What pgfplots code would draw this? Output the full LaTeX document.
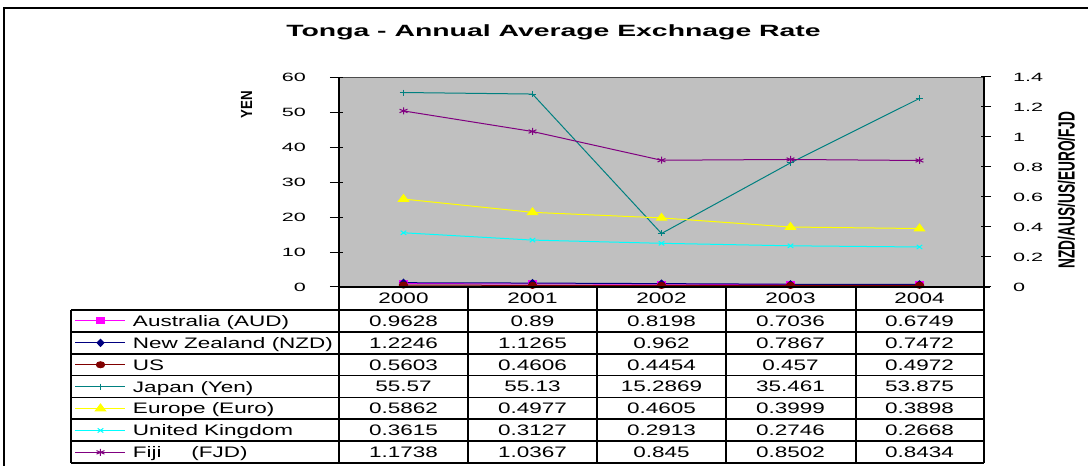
\documentclass[border=0pt]{standalone}
\usepackage{fontspec}
\setmainfont{Liberation Sans}
\usepackage{graphicx}
\usepackage{pgfplots}
\pgfplotsset{compat=1.18}
\definecolor{plotgray}{RGB}{192,192,192}
\definecolor{audc}{RGB}{255,0,255}
\definecolor{nzdc}{RGB}{0,0,128}
\definecolor{usc}{RGB}{128,0,0}
\definecolor{jpyc}{RGB}{0,128,128}
\definecolor{eurc}{RGB}{255,255,0}
\definecolor{gbpc}{RGB}{0,255,255}
\definecolor{fjdc}{RGB}{128,0,128}
\newcommand{\tx}[1]{{\fontsize{15.2}{18}\selectfont\scalebox{1.48}[1]{#1}}}
\newcommand{\tk}[1]{{\fontsize{12}{14}\selectfont\scalebox{1.8}[1]{#1}}}
\begin{document}
\begin{tikzpicture}
\begin{scope}[x=1pt,y=1pt]
\path[use as bounding box, fill=white] (0,0) rectangle (1088,466);
\draw[line width=2pt] (4,0) -- (4,458) -- (1088,458);
\node[anchor=base, inner sep=0pt] at (553.5,429.3) {\fontsize{16.3}{19}\selectfont\bfseries\scalebox{1.74}[1]{Tonga - Annual Average Exchnage Rate}};
\fill[plotgray] (339,179) rectangle (984,389);
\draw[gray!60!black, line width=0.6pt] (339,389) -- (984,389);
\node[rotate=90, inner sep=0pt] at (246.5,361) {\fontsize{14}{16}\selectfont\bfseries\scalebox{0.95}[1.15]{YEN}};
\node[rotate=90, inner sep=0pt] at (1066.5,276) {\fontsize{13.7}{16}\selectfont\bfseries\scalebox{1}[1.7]{NZD/AUS/US/EURO/FJD}};
\end{scope}

\begin{axis}[
  at={(339pt,179pt)}, anchor=south west,
  scale only axis, width=645pt, height=210pt,
  xmin=-0.5, xmax=4.5, ymin=0, ymax=60,
  axis x line=none, axis y line*=left,
  y axis line style={line width=2.4pt, -},
  ytick={0,10,20,30,40,50,60},
  tick align=outside, major tick length=13pt,
  ytick style={line width=1pt, black, xshift=4pt},
  /pgf/number format/assume math mode=true,
  yticklabel={\tk{\pgfmathprintnumber{\tick}}},
  yticklabel style={anchor=east, inner sep=0pt, xshift=-20pt},
  clip=false,
  legend cell align=left,
  legend style={at={(axis description cs:-0.4093,-0.10952)}, anchor=north west,
    draw=none, fill=none, inner sep=0pt, outer sep=0pt, row sep=0pt, column sep=7pt,
    nodes={inner sep=0pt, text height=16.35pt, text depth=5.55pt, anchor=west}},
  legend image code/.code={\draw[mark repeat=2,mark phase=2,#1] plot coordinates {(0pt,0pt) (25pt,0pt) (50pt,0pt)};},
]
\addplot[audc, line width=1pt, mark=square*, mark size=3pt, mark options={solid, xscale=1.3}]
  coordinates {(0,0.9628)(1,0.89)(2,0.8198)(3,0.7036)(4,0.6749)};
\addlegendentry{\tx{Australia (AUD)}}
\addplot[nzdc, line width=1pt, mark=diamond*, mark size=3.5pt, mark options={solid, xscale=1.3}]
  coordinates {(0,1.2246)(1,1.1265)(2,0.962)(3,0.7867)(4,0.7472)};
\addlegendentry{\tx{New Zealand (NZD)}}
\addplot[usc, line width=1pt, mark=*, mark size=3pt, mark options={solid, xscale=1.4}]
  coordinates {(0,0.5603)(1,0.4606)(2,0.4454)(3,0.457)(4,0.4972)};
\addlegendentry{\tx{US}}
\addplot[jpyc, line width=1pt, mark=+, mark size=3pt, mark options={solid, xscale=1.3}]
  coordinates {(0,55.57)(1,55.13)(2,15.2869)(3,35.461)(4,53.875)};
\addlegendentry{\tx{Japan (Yen)}}
\addlegendimage{eurc, line width=1pt, mark=triangle*, mark size=4.5pt, mark options={solid, xscale=1.3}}
\addlegendentry{\tx{Europe (Euro)}}
\addlegendimage{gbpc, line width=1pt, mark=x, mark size=3pt, mark options={solid, xscale=1.3}}
\addlegendentry{\tx{United Kingdom}}
\addlegendimage{fjdc, line width=1pt, mark=asterisk, mark size=3.5pt, mark options={solid, xscale=1.3}}
\addlegendentry{\tx{Fiji\hspace{20pt}(FJD)}}
\end{axis}

\begin{axis}[
  at={(339pt,179pt)}, anchor=south west,
  scale only axis, width=645pt, height=210pt,
  xmin=-0.5, xmax=4.5, ymin=0, ymax=1.4,
  axis x line=none, axis y line*=right,
  y axis line style={line width=2.4pt, -},
  ytick={0,0.2,0.4,0.6,0.8,1,1.2,1.4},
  tick align=outside, major tick length=10pt,
  ytick style={line width=1pt, black, xshift=-3pt},
  /pgf/number format/assume math mode=true,
  yticklabel={\tk{\pgfmathprintnumber{\tick}}},
  yticklabel style={anchor=west, inner sep=0pt, xshift=19pt},
  clip=false,
]
\addplot[eurc, line width=1pt, mark=triangle*, mark size=4.5pt, mark options={solid, xscale=1.3}]
  coordinates {(0,0.5862)(1,0.4977)(2,0.4605)(3,0.3999)(4,0.3898)};
\addplot[gbpc, line width=1pt, mark=x, mark size=3pt, mark options={solid, xscale=1.3}]
  coordinates {(0,0.3615)(1,0.3127)(2,0.2913)(3,0.2746)(4,0.2668)};
\addplot[fjdc, line width=1pt, mark=asterisk, mark size=3.5pt, mark options={solid, xscale=1.3}]
  coordinates {(0,1.1738)(1,1.0367)(2,0.845)(3,0.8502)(4,0.8434)};
\end{axis}

\begin{scope}[x=1pt,y=1pt]
\draw[line width=1.6pt] (339,179) -- (990,179);
\foreach \k in {0,...,7} \draw[line width=1.6pt] (71,{156-21.857*\k}) -- (984,{156-21.857*\k});
\draw[line width=1.6pt] (71,156) -- (71,3);
\foreach \xx in {339,468,597,726,856,984} \draw[line width=1.6pt] (\xx,179) -- (\xx,3);
\foreach \yr [count=\i from 0] in {2000,2001,2002,2003,2004}
  \node[anchor=base, inner sep=0pt] at ({403.5+129*\i},162.7) {\tx{\yr}};
\foreach \r/\a/\b/\c/\d/\e in {0/0.9628/0.89/0.8198/0.7036/0.6749,
    1/1.2246/1.1265/0.962/0.7867/0.7472,
    2/0.5603/0.4606/0.4454/0.457/0.4972,
    3/55.57/55.13/15.2869/35.461/53.875,
    4/0.5862/0.4977/0.4605/0.3999/0.3898,
    5/0.3615/0.3127/0.2913/0.2746/0.2668,
    6/1.1738/1.0367/0.845/0.8502/0.8434} {
  \pgfmathsetmacro{\yb}{466-(310+21.857*(\r+0.5)+5.4)}
  \node[anchor=base, inner sep=0pt] at (403.5,\yb) {\tx{\a}};
  \node[anchor=base, inner sep=0pt] at (532.5,\yb) {\tx{\b}};
  \node[anchor=base, inner sep=0pt] at (661.5,\yb) {\tx{\c}};
  \node[anchor=base, inner sep=0pt] at (790.5,\yb) {\tx{\d}};
  \node[anchor=base, inner sep=0pt] at (919.5,\yb) {\tx{\e}};
}
\end{scope}
\end{tikzpicture}
\end{document}
